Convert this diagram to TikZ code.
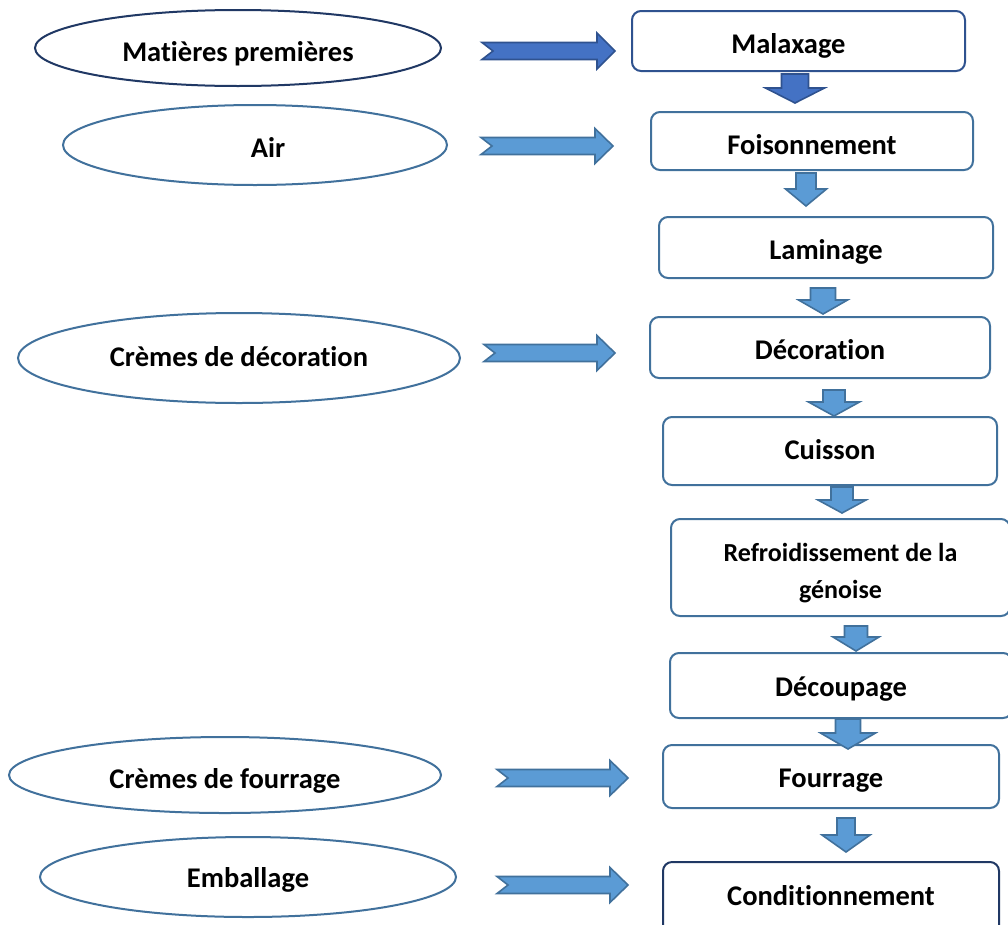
\documentclass[tikz,border=0pt]{standalone}
\usepackage{fontspec}
\setmainfont{Carlito}[Ligatures=NoCommon]
\usetikzlibrary{shapes.geometric}

\definecolor{darkfill}{HTML}{4472C4}
\definecolor{darkline}{HTML}{2F528F}
\definecolor{lightfill}{HTML}{5B9BD5}
\definecolor{lightline}{HTML}{41719C}
\definecolor{navyline}{HTML}{203864}

\begin{document}
\begin{tikzpicture}[x=1pt,y=-1pt,
    procbox/.style={draw=lightline, line width=2pt, rounded corners=9pt, fill=white, inner sep=0pt,
        text height=24pt, text depth=0pt, font=\bfseries\fontsize{28.5}{34}\selectfont},
    srcellipse/.style={ellipse, draw=lightline, line width=2pt, fill=white, inner sep=0pt,
        text height=24pt, text depth=0pt, font=\bfseries\fontsize{28.5}{34}\selectfont},
    blockarrow/.style={fill=lightfill, draw=lightline, line width=1.6pt, line join=miter},
    darkarrow/.style={fill=darkfill, draw=darkline, line width=1.6pt, line join=miter}]

    \clip (0,0) rectangle (1008,924);
    \fill[white] (0,0) rectangle (1008,924);

    % sources
    \node[srcellipse, draw=navyline, minimum width=406, minimum height=76, text height=27pt] (matieres) at (238,48) {Matières premières};
    \node[srcellipse, minimum width=384, minimum height=80] (air) at (255,145) {\hspace{26pt}Air};
    \node[srcellipse, minimum width=442, minimum height=90, text height=16pt] (cremesdeco) at (239,358) {Crèmes de décoration};
    \node[srcellipse, minimum width=432, minimum height=76, text height=27pt] (cremesfour) at (225,775) {Crèmes de fourrage};
    \node[srcellipse, minimum width=416, minimum height=80, text height=21pt] (emballage) at (248,877) {Emballage};

    % steps
    \node[procbox, draw=darkline, minimum width=333, minimum height=60] (malaxage) at (798.5,41) {\hspace{-20pt}Malaxage};
    \node[procbox, minimum width=322, minimum height=58, text height=27pt] (foisonnement) at (812,141) {Foisonnement};
    \node[procbox, minimum width=334, minimum height=61] (laminage) at (826,247.5) {Laminage};
    \node[procbox, minimum width=340, minimum height=61] (decoration) at (820,347.5) {Décoration};
    \node[procbox, minimum width=334, minimum height=68, text height=16pt] (cuisson) at (830,451) {Cuisson};
    \node[procbox, minimum width=339, minimum height=97, align=center, text height=62pt, text depth=0pt,
        font=\bfseries\fontsize{26}{37}\selectfont] (refroid) at (840.5,567.5) {Refroidissement de la\\génoise};
    \node[procbox, minimum width=342, minimum height=65, text height=22pt] (decoupage) at (841,685.5) {Découpage};
    \node[procbox, minimum width=336, minimum height=63, text height=22pt] (fourrage) at (831,776.5) {Fourrage};
    \node[procbox, draw=navyline, minimum width=336, minimum height=72, text height=14pt] (conditionnement) at (831,898) {Conditionnement};

    % side arrows
    \draw[darkarrow] (482,42.5) -- (597,42.5) -- (597,33) -- (615,51) -- (597,69) -- (597,59.5) -- (482,59.5) -- (493,51) -- cycle;
    \foreach \a/\b/\c in {481/613/146, 484/615/353, 497/628/778, 497/628/885}
        \draw[blockarrow] (\a,\c-8.5) -- (\b-18,\c-8.5) -- (\b-18,\c-17.5) -- (\b,\c) -- (\b-18,\c+17.5)
            -- (\b-18,\c+8.5) -- (\a,\c+8.5) -- (\a+11,\c) -- cycle;

    % down arrows
    \draw[darkarrow] (781.5,74) -- (808.5,74) -- (808.5,88) -- (824.5,88) -- (795,103) -- (765.5,88) -- (781.5,88) -- cycle;
    \foreach \x/\t/\e/\s/\h/\m in {806/173/206/10/20.5/189, 823/288/314/12.5/24.5/300, 834/390/416/11/25.5/402,
        842/487/513/11/24/500, 856/626/651/11.5/23/637, 848/719/749/12.5/27.5/733, 846/818/852/9/24/835}
        \draw[blockarrow] (\x-\s,\t) -- (\x+\s,\t) -- (\x+\s,\m) -- (\x+\h,\m) -- (\x,\e) -- (\x-\h,\m) -- (\x-\s,\m) -- cycle;

\end{tikzpicture}
\end{document}
